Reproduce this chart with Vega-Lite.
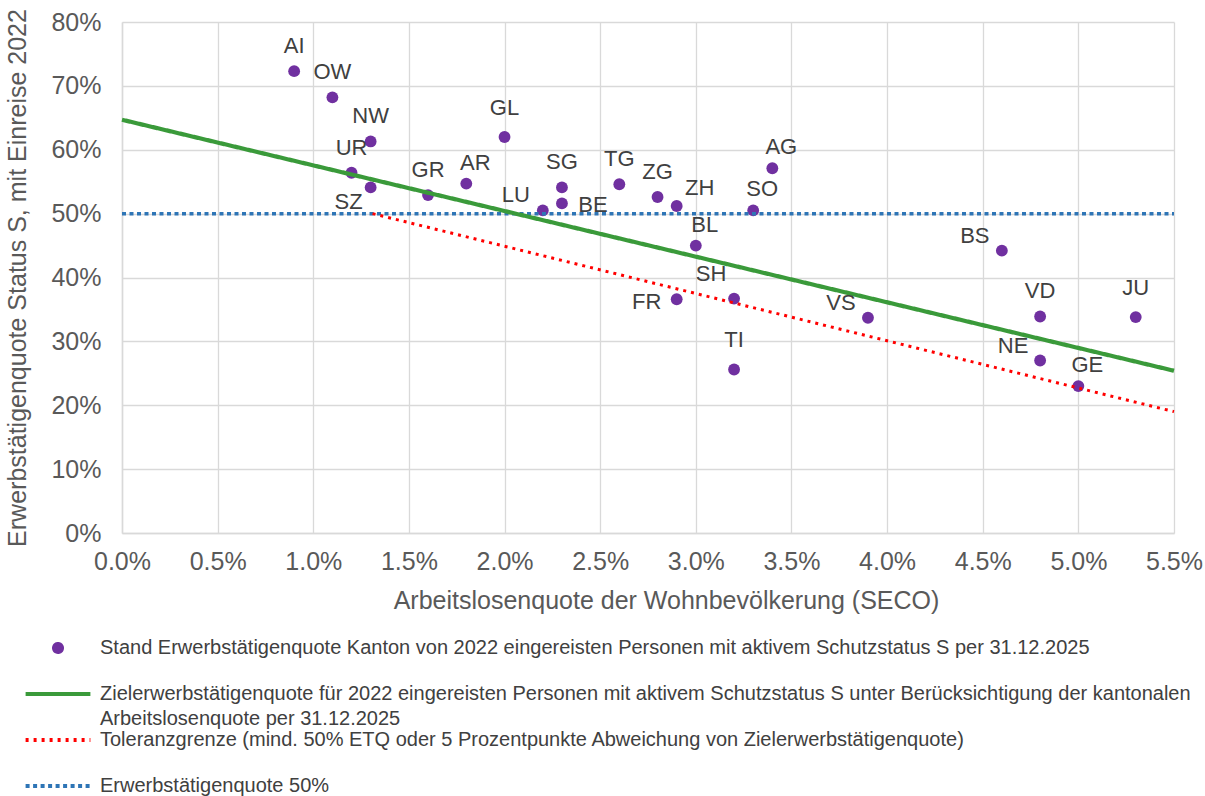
{
  "$schema": "https://vega.github.io/schema/vega-lite/v6.json",
  "width": 1052,
  "height": 511,
  "autosize": {"type": "none"},
  "padding": {"left": 122, "top": 22, "right": 31, "bottom": 263},
  "background": "white",
  "config": {
    "font": "Liberation Sans",
    "view": {"stroke": null},
    "style": {"guide-label": {"lineHeight": 25}}
  },
  "datasets": {
    "pts": [
      {"kanton": "AI", "x": 0.009, "y": 0.723, "pos": "t"},
      {"kanton": "OW", "x": 0.011, "y": 0.682, "pos": "t"},
      {"kanton": "NW", "x": 0.013, "y": 0.613, "pos": "t"},
      {"kanton": "UR", "x": 0.012, "y": 0.564, "pos": "t"},
      {"kanton": "SZ", "x": 0.013, "y": 0.541, "pos": "bl"},
      {"kanton": "GR", "x": 0.016, "y": 0.529, "pos": "t"},
      {"kanton": "AR", "x": 0.018, "y": 0.547, "pos": "tr"},
      {"kanton": "GL", "x": 0.020, "y": 0.620, "pos": "tt"},
      {"kanton": "LU", "x": 0.022, "y": 0.505, "pos": "tl"},
      {"kanton": "SG", "x": 0.023, "y": 0.541, "pos": "t"},
      {"kanton": "BE", "x": 0.023, "y": 0.516, "pos": "r"},
      {"kanton": "TG", "x": 0.026, "y": 0.546, "pos": "t"},
      {"kanton": "ZG", "x": 0.028, "y": 0.526, "pos": "t"},
      {"kanton": "ZH", "x": 0.029, "y": 0.512, "pos": "trr"},
      {"kanton": "SO", "x": 0.033, "y": 0.505, "pos": "tr"},
      {"kanton": "AG", "x": 0.034, "y": 0.571, "pos": "tr"},
      {"kanton": "BL", "x": 0.030, "y": 0.450, "pos": "tr"},
      {"kanton": "SH", "x": 0.032, "y": 0.367, "pos": "tlh"},
      {"kanton": "FR", "x": 0.029, "y": 0.366, "pos": "l"},
      {"kanton": "TI", "x": 0.032, "y": 0.256, "pos": "tt"},
      {"kanton": "VS", "x": 0.039, "y": 0.337, "pos": "tl"},
      {"kanton": "BS", "x": 0.046, "y": 0.442, "pos": "tl"},
      {"kanton": "VD", "x": 0.048, "y": 0.339, "pos": "t"},
      {"kanton": "NE", "x": 0.048, "y": 0.270, "pos": "tl"},
      {"kanton": "GE", "x": 0.050, "y": 0.230, "pos": "tr"},
      {"kanton": "JU", "x": 0.053, "y": 0.338, "pos": "tt"}
    ],
    "green": [{"x": 0.0, "y": 0.647}, {"x": 0.055, "y": 0.254}],
    "red": [{"x": 0.0131, "y": 0.50}, {"x": 0.055, "y": 0.19}],
    "blue": [{"x": 0.0, "y": 0.50}, {"x": 0.055, "y": 0.50}]
  },
  "encoding": {
    "x": {
      "field": "x", "type": "quantitative",
      "scale": {"domain": [0, 0.055], "nice": false, "zero": false},
      "axis": {
        "values": [0, 0.005, 0.01, 0.015, 0.02, 0.025, 0.03, 0.035, 0.04, 0.045, 0.05, 0.055],
        "format": ".1%",
        "title": "Arbeitslosenquote der Wohnbevölkerung (SECO)",
        "titleFontSize": 25, "titleFontWeight": "normal", "titleColor": "#595959", "titlePadding": 14,
        "titleX": 544, "titleAnchor": null, "titleAlign": "center",
        "labelFontSize": 25, "labelColor": "#595959", "labelPadding": 16, "labelFlush": false, "labelOverlap": false,
        "ticks": false, "domainColor": "#D9D9D9", "domainWidth": 1.5,
        "grid": true, "gridColor": "#D9D9D9", "gridWidth": 1.3
      }
    },
    "y": {
      "field": "y", "type": "quantitative",
      "scale": {"domain": [0, 0.8], "nice": false},
      "axis": {
        "values": [0, 0.1, 0.2, 0.3, 0.4, 0.5, 0.6, 0.7, 0.8],
        "format": ".0%",
        "title": "Erwerbstätigenquote Status S, mit Einreise 2022",
        "titleFontSize": 25, "titleFontWeight": "normal", "titleColor": "#595959", "titlePadding": 20,
        "labelFontSize": 25, "labelColor": "#595959", "labelPadding": 21, "labelFlush": false, "labelOverlap": false,
        "ticks": false, "domainColor": "#D9D9D9", "domainWidth": 1.5,
        "grid": true, "gridColor": "#D9D9D9", "gridWidth": 1.3
      }
    }
  },
  "layer": [
    {
      "data": {"name": "pts"},
      "mark": {"type": "point", "filled": true, "size": 140, "opacity": 1},
      "encoding": {
        "color": {
          "datum": "S", "type": "nominal",
          "scale": {"domain": ["S", "Z", "T", "E"], "range": ["#7030A0", "#3A9A3A", "#FF0000", "#2E75B6"]},
          "legend": {
            "orient": "none", "legendX": -74, "legendY": 616, "direction": "vertical",
            "title": null,
            "labelFont": "Liberation Sans", "labelFontSize": 20, "labelColor": "#404040",
            "labelLimit": 0, "labelOffset": 32, "rowPadding": 1,
            "symbolSize": 64, "symbolStrokeWidth": 4,
            "labelExpr": "datum.value === 'S' ? ['Stand Erwerbstätigenquote Kanton von 2022 eingereisten Personen mit aktivem Schutzstatus S per 31.12.2025', ''] : datum.value === 'Z' ? ['Zielerwerbstätigenquote für 2022 eingereisten Personen mit aktivem Schutzstatus S unter Berücksichtigung der kantonalen', 'Arbeitslosenquote per 31.12.2025'] : datum.value === 'T' ? ['Toleranzgrenze (mind. 50% ETQ oder 5 Prozentpunkte Abweichung von Zielerwerbstätigenquote)', ''] : 'Erwerbstätigenquote 50%'"
          }
        },
        "shape": {
          "datum": "S", "type": "nominal",
          "scale": {"domain": ["S", "Z", "T", "E"], "range": ["circle", "M-8.1,0H8.1", "M-8.1,0H8.1", "M-8.1,0H8.1"]},
          "legend": {"title": null}
        },
        "strokeDash": {
          "datum": "S", "type": "nominal",
          "scale": {"domain": ["S", "Z", "T", "E"], "range": [[1, 0], [1, 0], [3, 5], [4, 3.5]]},
          "legend": {"title": null}
        }
      }
    },
    {
      "data": {"name": "blue"},
      "mark": {"type": "line", "strokeWidth": 3.5},
      "encoding": {"color": {"datum": "E", "type": "nominal"}, "strokeDash": {"datum": "E", "type": "nominal"}}
    },
    {
      "data": {"name": "green"},
      "mark": {"type": "line", "strokeWidth": 4.2},
      "encoding": {"color": {"datum": "Z", "type": "nominal"}, "strokeDash": {"datum": "Z", "type": "nominal"}}
    },
    {
      "data": {"name": "red"},
      "mark": {"type": "line", "strokeWidth": 3},
      "encoding": {"color": {"datum": "T", "type": "nominal"}, "strokeDash": {"datum": "T", "type": "nominal"}}
    },
    {
      "data": {"name": "pts"},
      "transform": [{"filter": "datum.pos === 't'"}],
      "mark": {"type": "text", "fontSize": 22, "color": "#404040", "dx": 0, "dy": -25},
      "encoding": {"text": {"field": "kanton"}}
    },
    {
      "data": {"name": "pts"},
      "transform": [{"filter": "datum.pos === 'tt'"}],
      "mark": {"type": "text", "fontSize": 22, "color": "#404040", "dx": 0, "dy": -29},
      "encoding": {"text": {"field": "kanton"}}
    },
    {
      "data": {"name": "pts"},
      "transform": [{"filter": "datum.pos === 'tr'"}],
      "mark": {"type": "text", "fontSize": 22, "color": "#404040", "dx": 9, "dy": -21},
      "encoding": {"text": {"field": "kanton"}}
    },
    {
      "data": {"name": "pts"},
      "transform": [{"filter": "datum.pos === 'trr'"}],
      "mark": {"type": "text", "fontSize": 22, "color": "#404040", "dx": 23, "dy": -18},
      "encoding": {"text": {"field": "kanton"}}
    },
    {
      "data": {"name": "pts"},
      "transform": [{"filter": "datum.pos === 'tl'"}],
      "mark": {"type": "text", "fontSize": 22, "color": "#404040", "dx": -27, "dy": -15},
      "encoding": {"text": {"field": "kanton"}}
    },
    {
      "data": {"name": "pts"},
      "transform": [{"filter": "datum.pos === 'tlh'"}],
      "mark": {"type": "text", "fontSize": 22, "color": "#404040", "dx": -23, "dy": -25},
      "encoding": {"text": {"field": "kanton"}}
    },
    {
      "data": {"name": "pts"},
      "transform": [{"filter": "datum.pos === 'l'"}],
      "mark": {"type": "text", "fontSize": 22, "color": "#404040", "dx": -30, "dy": 3},
      "encoding": {"text": {"field": "kanton"}}
    },
    {
      "data": {"name": "pts"},
      "transform": [{"filter": "datum.pos === 'r'"}],
      "mark": {"type": "text", "fontSize": 22, "color": "#404040", "dx": 31, "dy": 2},
      "encoding": {"text": {"field": "kanton"}}
    },
    {
      "data": {"name": "pts"},
      "transform": [{"filter": "datum.pos === 'bl'"}],
      "mark": {"type": "text", "fontSize": 22, "color": "#404040", "dx": -22, "dy": 15},
      "encoding": {"text": {"field": "kanton"}}
    }
  ]
}
